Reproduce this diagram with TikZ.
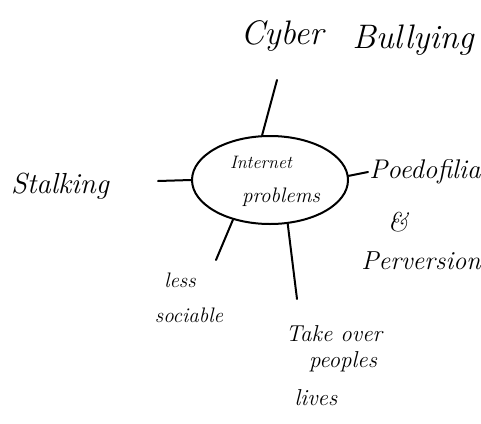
\documentclass[tikz,border=0pt]{standalone}
\usetikzlibrary{shapes.geometric}
\begin{document}
\begin{tikzpicture}[x=1pt,y=-1pt,
  hand/.style={line width=2pt,line cap=round},
  lbl/.style={inner sep=0pt,align=center,font=\itshape}]
\useasboundingbox[fill=white] (0,0) rectangle (481,423);
\node[ellipse,draw,line width=2pt,minimum width=156pt,minimum height=88pt,inner sep=0pt] (c) at (270,180) {};
\node[lbl,font=\itshape\fontsize{18}{20}\selectfont] (t1) at (261,162) {Internet};
\node[lbl,font=\itshape\fontsize{21}{23}\selectfont] (t2) at (281,197) {problems};
% labels
\node[lbl,font=\itshape\fontsize{34}{36}\selectfont] (cy) at (282,36) {Cyber};
\node[lbl,font=\itshape\fontsize{34}{36}\selectfont] (bu) at (413,40) {Bullying};
\node[lbl,font=\itshape\fontsize{29}{31}\selectfont] (st) at (60,186) {Stalking};
\node[lbl,font=\itshape\fontsize{27}{29}\selectfont] (po) at (425,172) {Poedofilia};
\node[lbl,font=\itshape\fontsize{27}{29}\selectfont] (am) at (398,222) {\&};
\node[lbl,font=\itshape\fontsize{26}{28}\selectfont] (pe) at (421,261) {Perversion};
\node[lbl,font=\itshape\fontsize{21}{23}\selectfont] (le) at (180,280) {less};
\node[lbl,font=\itshape\fontsize{21}{23}\selectfont] (so) at (189,315) {sociable};
\node[lbl,font=\itshape\fontsize{23}{25}\selectfont] (ta) at (334,334) {Take over};
\node[lbl,font=\itshape\fontsize{23}{25}\selectfont] (pp) at (343,362) {peoples};
\node[lbl,font=\itshape\fontsize{23}{25}\selectfont] (li) at (316,398) {lives};
% connector ends
\coordinate (eTop) at (277,80);
\coordinate (eLeft) at (158,181);
\coordinate (eRight) at (368,172);
\coordinate (eBL) at (216,260);
\coordinate (eBR) at (297,299);
\draw[hand] (c.100) -- (eTop);
\draw[hand] (c.180) -- (eLeft);
\draw[hand] (c.3) .. controls (358,174) .. (eRight);
\draw[hand] (c.227) -- (eBL);
\draw[hand] (c.292) -- (eBR);
\end{tikzpicture}
\end{document}
